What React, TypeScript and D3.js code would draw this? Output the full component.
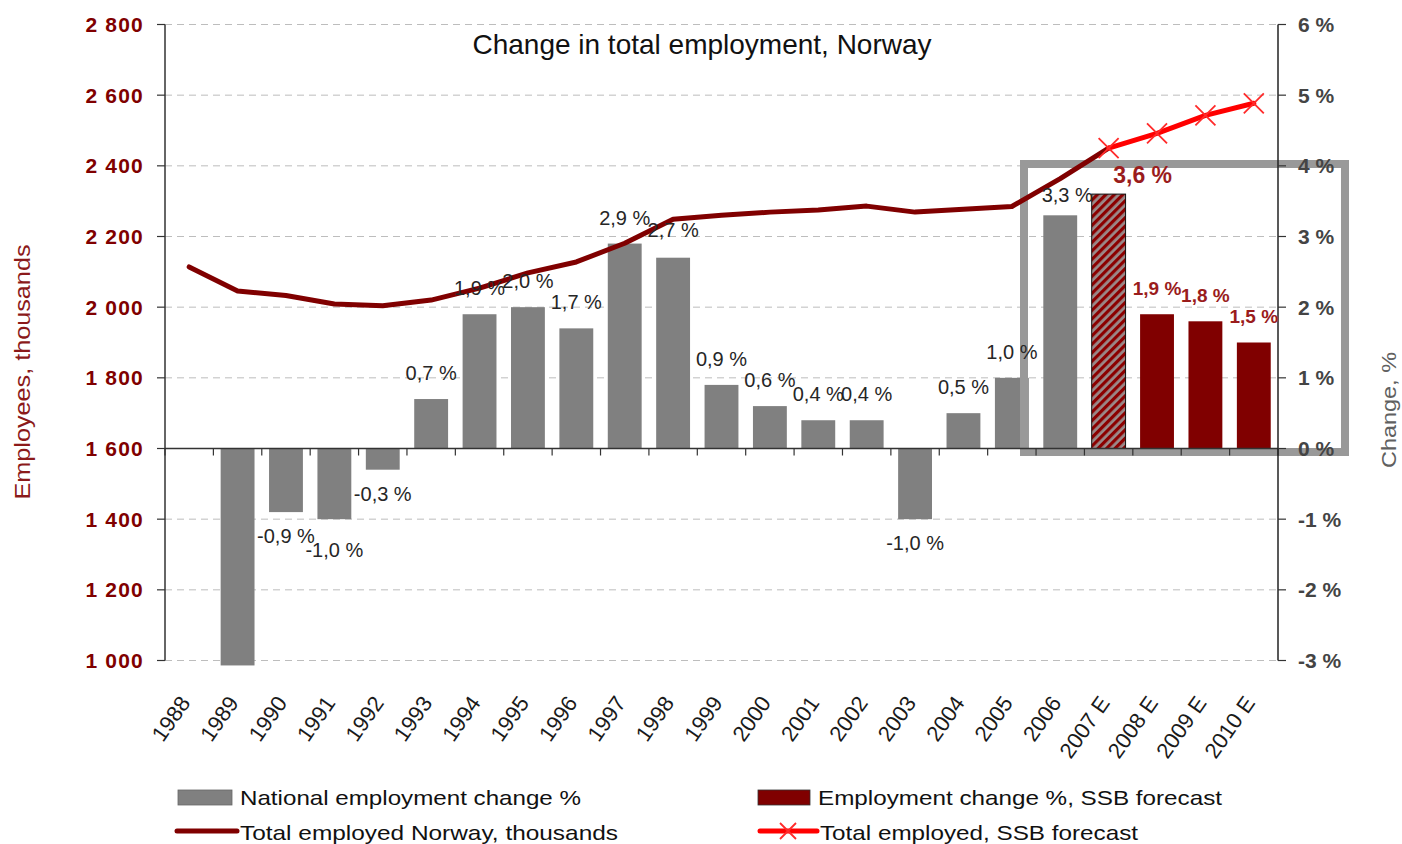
import React from "react";
import * as d3 from "d3";

const categories = [
  "1988", "1989", "1990", "1991", "1992", "1993", "1994", "1995", "1996", "1997",
  "1998", "1999", "2000", "2001", "2002", "2003", "2004", "2005", "2006",
  "2007 E", "2008 E", "2009 E", "2010 E",
];
const historicCategories = categories.slice(0, 19);
const forecastCategories = categories.slice(19);

// % change, 1988..2006 (1988 has no bar)
const nationalChange: (number | null)[] = [
  null, -3.07, -0.9, -1.0, -0.3, 0.7, 1.9, 2.0, 1.7, 2.9,
  2.7, 0.9, 0.6, 0.4, 0.4, -1.0, 0.5, 1.0, 3.3,
];
// % change forecast, 2007 E..2010 E
const forecastChange = [3.6, 1.9, 1.8, 1.5];

// thousands employed, 1988..2007 E
const employedNorway = [
  2114, 2046, 2033, 2009, 2004, 2020, 2054, 2097, 2128, 2181,
  2249, 2260, 2269, 2275, 2286, 2269, 2277, 2285, 2364, 2450,
];
// thousands employed forecast, 2007 E..2010 E
const employedForecast = [2450, 2492, 2543, 2577];

const leftTicks = [1000, 1200, 1400, 1600, 1800, 2000, 2200, 2400, 2600, 2800];
const rightTicks = [-3, -2, -1, 0, 1, 2, 3, 4, 5, 6];

const title = "Change in total employment, Norway";
const leftTitle = "Employees, thousands";
const rightTitle = "Change, %";
const legendLabels = [
  "National employment change %",
  "Employment change %, SSB forecast",
  "Total employed Norway, thousands",
  "Total employed, SSB forecast",
];

const loc = d3.formatLocale({
  decimal: ",",
  thousands: "\u00a0",
  grouping: [3],
  currency: ["", ""],
  minus: "-",
});
const fmtThousands = loc.format(",d");
const fmtPct = (v: number) => loc.format(".1f")(v) + " %";
const fmtAxisPct = (v: number) => loc.format("d")(v) + " %";

const FONT = "'Liberation Sans', Arial, 'DejaVu Sans', sans-serif";
const GRAY = "#808080";
const DARKRED = "#800000";
const RED = "#ff0000";

export default function App() {
  const W = 1402;
  const H = 844;
  const xL = 165;
  const xR = 1278;
  const yTop = 24.5;
  const yBot = 660.5;

  const x = d3
    .scaleBand<string>()
    .domain(categories)
    .range([xL, xR])
    .paddingInner(0.3)
    .paddingOuter(0.15);
  const yL = d3.scaleLinear().domain([1000, 2800]).range([yBot, yTop]);
  const yR = d3.scaleLinear().domain([-3, 6]).range([yBot, yTop]);
  const cx = (c: string) => (x(c) as number) + x.bandwidth() / 2;
  const y0 = yR(0);

  const lineHist = d3
    .line<number>()
    .x((_, i) => cx(categories[i]))
    .y((d) => yL(d));
  const lineFc = d3
    .line<number>()
    .x((_, i) => cx(forecastCategories[i]))
    .y((d) => yL(d));

  const step = x.step();
  const tickXs = d3.range(categories.length + 1).map((k) => xL + step * k);

  const labelAdjust: Record<string, { dx: number; dy: number }> = {
    "1991": { dx: 0, dy: 7 },
    "1998": { dx: 0, dy: -2 },
    "2006": { dx: 7, dy: 6 },
    "2007 E": { dx: 34, dy: 7 },
  };

  const barLabel = (cat: string, v: number, opts: { fill: string; size: number; weight: string }) => {
    const adj = labelAdjust[cat] || { dx: 0, dy: 0 };
    const yy = v >= 0 ? yR(v) - 26 : yR(v) + 24;
    return (
      <text
        key={"lbl" + cat}
        x={cx(cat) + adj.dx}
        y={yy + adj.dy}
        textAnchor="middle"
        dominantBaseline="central"
        fontSize={opts.size}
        fontWeight={opts.weight}
        fill={opts.fill}
        fontFamily={FONT}
      >
        {fmtPct(v)}
      </text>
    );
  };

  const xMark = (px: number, py: number, s: number, key: string) => (
    <path
      key={key}
      d={`M${px - s},${py - s}L${px + s},${py + s}M${px - s},${py + s}L${px + s},${py - s}`}
      stroke="#ff2a2a"
      strokeWidth={1.8}
      fill="none"
    />
  );

  return (
    <svg
      width={W}
      height={H}
      viewBox={`0 0 ${W} ${H}`}
      style={{ position: "absolute", left: 0, top: 0, display: "block", background: "#fff" }}
    >
      <defs>
        <pattern
          id="hatch"
          patternUnits="userSpaceOnUse"
          width={6}
          height={6}
          patternTransform="rotate(45)"
        >
          <rect x={0} y={0} width={6} height={6} fill="#9a8a8a" />
          <rect x={0} y={0} width={3.2} height={6} fill="#8b0000" />
        </pattern>
      </defs>
      <rect x={0} y={0} width={W} height={H} fill="#fff" />

      {/* gridlines */}
      {leftTicks
        .filter((t) => t !== 1600)
        .map((t) => (
          <line
            key={"g" + t}
            x1={xL}
            x2={xR}
            y1={yL(t)}
            y2={yL(t)}
            stroke="#bdbdbd"
            strokeWidth={1}
            strokeDasharray="7,5"
          />
        ))}

      {/* historic bars */}
      {historicCategories.map((c, i) => {
        const v = nationalChange[i];
        if (v == null) return null;
        return (
          <rect
            key={"b" + c}
            x={x(c)}
            width={x.bandwidth()}
            y={Math.min(yR(v), y0)}
            height={Math.abs(yR(v) - y0)}
            fill={GRAY}
          />
        );
      })}

      {/* forecast bars */}
      {forecastCategories.map((c, i) => {
        const v = forecastChange[i];
        const hatched = i === 0;
        return (
          <rect
            key={"f" + c}
            x={x(c)}
            width={x.bandwidth()}
            y={Math.min(yR(v), y0)}
            height={Math.abs(yR(v) - y0)}
            fill={hatched ? "url(#hatch)" : DARKRED}
            stroke={hatched ? "#111" : "none"}
            strokeWidth={hatched ? 1 : 0}
          />
        );
      })}

      {/* highlight box */}
      <rect
        x={1024}
        y={164}
        width={321}
        height={288}
        fill="none"
        stroke="#999999"
        strokeWidth={8}
      />

      {/* x axis */}
      <line x1={xL} x2={xR} y1={y0} y2={y0} stroke="#333" strokeWidth={1.5} />
      {tickXs.map((tx, k) => (
        <line key={"xt" + k} x1={tx} x2={tx} y1={y0} y2={y0 + 7} stroke="#333" strokeWidth={1.2} />
      ))}

      {/* left axis */}
      <line x1={xL} x2={xL} y1={yTop} y2={yBot} stroke="#333" strokeWidth={1.5} />
      {leftTicks.map((t) => (
        <g key={"lt" + t}>
          <line x1={xL - 8} x2={xL} y1={yL(t)} y2={yL(t)} stroke="#333" strokeWidth={1.2} />
          <text
            x={144}
            y={yL(t)}
            textAnchor="end"
            dominantBaseline="central"
            fontSize={21}
            fontWeight="bold"
            fill={DARKRED}
            fontFamily={FONT}
            letterSpacing={1.2}
          >
            {fmtThousands(t)}
          </text>
        </g>
      ))}

      {/* right axis */}
      <line x1={xR} x2={xR} y1={yTop} y2={yBot} stroke="#222" strokeWidth={1.5} />
      {rightTicks.map((t) => (
        <g key={"rt" + t}>
          <line x1={xR} x2={xR + 8} y1={yR(t)} y2={yR(t)} stroke="#333" strokeWidth={1.2} />
          <text
            x={1298}
            y={yR(t)}
            dominantBaseline="central"
            fontSize={21}
            fontWeight="bold"
            fill="#444"
            fontFamily={FONT}
          >
            {fmtAxisPct(t)}
          </text>
        </g>
      ))}

      {/* lines */}
      <path
        d={lineHist(employedNorway) || ""}
        fill="none"
        stroke={DARKRED}
        strokeWidth={5}
        strokeLinejoin="round"
        strokeLinecap="round"
      />
      <path
        d={lineFc(employedForecast) || ""}
        fill="none"
        stroke={RED}
        strokeWidth={5}
        strokeLinejoin="round"
        strokeLinecap="round"
      />
      {employedForecast.map((v, i) =>
        xMark(cx(forecastCategories[i]), yL(v), 10, "xm" + i)
      )}

      {/* bar labels */}
      {historicCategories.map((c, i) => {
        const v = nationalChange[i];
        if (v == null || v < -3) return null;
        return barLabel(c, v, { fill: "#262626", size: 20, weight: "normal" });
      })}
      {forecastCategories.map((c, i) =>
        barLabel(c, forecastChange[i], {
          fill: "#9a1c1c",
          size: i === 0 ? 23 : 19,
          weight: "bold",
        })
      )}

      {/* x tick labels */}
      {categories.map((c) => (
        <text
          key={"xl" + c}
          transform={`translate(${cx(c) + 2},${703}) rotate(-55)`}
          textAnchor="end"
          fontSize={22}
          fill="#1a1a1a"
          fontFamily={FONT}
        >
          {c}
        </text>
      ))}

      {/* title */}
      <text
        x={702}
        y={54}
        textAnchor="middle"
        fontSize={28}
        fill="#111"
        fontFamily={FONT}
      >
        {title}
      </text>

      {/* axis titles */}
      <text
        transform={`translate(30,372) rotate(-90)`}
        textAnchor="middle"
        fontSize={22}
        fill="#8b1a1a"
        fontFamily={FONT}
        textLength={255}
        lengthAdjust="spacingAndGlyphs"
      >
        {leftTitle}
      </text>
      <text
        transform={`translate(1396,410) rotate(-90)`}
        textAnchor="middle"
        fontSize={21}
        fill="#606060"
        fontFamily={FONT}
        textLength={116}
        lengthAdjust="spacingAndGlyphs"
      >
        {rightTitle}
      </text>

      {/* legend */}
      <g fontFamily={FONT} fontSize={21} fill="#111">
        <rect x={178} y={790} width={54} height={15} fill={GRAY} stroke="#666" strokeWidth={0.8} />
        <text x={240} y={797} dominantBaseline="central" textLength={341} lengthAdjust="spacingAndGlyphs">
          {legendLabels[0]}
        </text>
        <rect x={758} y={790} width={52} height={15} fill={DARKRED} stroke="#333" strokeWidth={0.8} />
        <text x={818} y={797} dominantBaseline="central" textLength={404} lengthAdjust="spacingAndGlyphs">
          {legendLabels[1]}
        </text>
        <line x1={177} x2={237} y1={831} y2={831} stroke={DARKRED} strokeWidth={5} strokeLinecap="round" />
        <text x={240} y={832} dominantBaseline="central" textLength={378} lengthAdjust="spacingAndGlyphs">
          {legendLabels[2]}
        </text>
        <line x1={760} x2={817} y1={831} y2={831} stroke={RED} strokeWidth={5} strokeLinecap="round" />
        {xMark(788, 831, 8, "legx")}
        <text x={820} y={832} dominantBaseline="central" textLength={318} lengthAdjust="spacingAndGlyphs">
          {legendLabels[3]}
        </text>
      </g>
    </svg>
  );
}
